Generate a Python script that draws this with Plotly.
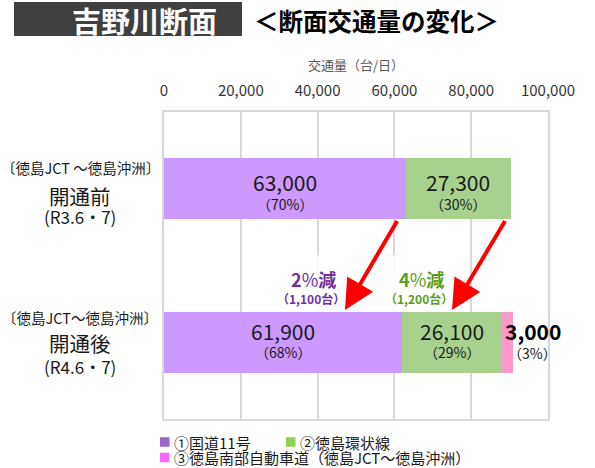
import plotly.graph_objects as go

# ---------------- data ----------------
categories = ["開通前", "開通後"]
route_labels = ["〔徳島JCT ～徳島沖洲〕", "〔徳島JCT～徳島沖洲〕"]
period_labels = ["(R3.6・7)", "(R4.6・7)"]
series_names = ["①国道11号", "②徳島環状線", "③徳島南部自動車道（徳島JCT～徳島沖洲）"]
route11 = [63000, 61900]
ring_road = [27300, 26100]
expressway = [0, 3000]
x_tick_values = [0, 20000, 40000, 60000, 80000, 100000]
axis_title = "交通量（台/日）"
title_left = "吉野川断面"
title_right = "＜断面交通量の変化＞"

# ---------------- style ----------------
FONT = "Noto Sans CJK JP"
BAR_COLORS = ["#cc99ff", "#a9d18e", "#ff99cc"]
LEGEND_COLORS = ["#9966cc", "#92d050", "#ff66ff"]
CHANGE_COLORS = ["#7030a0", "#5b9b22"]
GRID = "#d9d9d9"

W, H = 595, 468
L, R, T, B = 164, 47, 112, 49
PW, PH = W - L - R, H - T - B

# vertical pixel offsets of text lines per category row
VALUE_SHIFT = [7, 11]
PCT_SHIFT = [-15, -10]
LABEL_SHIFTS = [(21, -7, -28), (25, -1, -24)]


def px_x(p):
    return (p - L) / PW


def px_y(p):
    return (H - B - p) / PH


series = [route11, ring_road, expressway]
totals = [sum(s[i] for s in series) for i in range(len(categories))]

fig = go.Figure()
for name, vals, col in zip(series_names, series, BAR_COLORS):
    fig.add_trace(go.Bar(
        y=categories, x=vals, name=name, orientation="h",
        marker=dict(color=col, line=dict(width=0)),
        showlegend=False, hoverinfo="x+name",
    ))

ann = []
shapes = []


def text_ann(**kw):
    d = dict(showarrow=False, xanchor="center", yanchor="middle")
    d.update(kw)
    ann.append(d)


# in-bar value labels
for i, cat in enumerate(categories):
    start = 0
    for k, vals in enumerate(series):
        v = vals[i]
        if v <= 0:
            start += v
            continue
        pct = round(v / totals[i] * 100)
        if k < 2:
            text_ann(x=start + v / 2, y=cat, xref="x", yref="y", text=f"{v:,}",
                     yshift=VALUE_SHIFT[i],
                     font=dict(family=FONT, size=21, color="#1a1a1a"))
            text_ann(x=start + v / 2, y=cat, xref="x", yref="y", text=f"（{pct}%）",
                     yshift=PCT_SHIFT[i],
                     font=dict(family=FONT, size=14, color="#1a1a1a"))
        else:
            text_ann(x=start + v, y=cat, xref="x", yref="y", text=f"<b>{v:,}</b>",
                     yshift=11, xshift=20,
                     font=dict(family=FONT, size=21, color="#000000"))
            text_ann(x=start + v, y=cat, xref="x", yref="y", text=f"（{pct}%）",
                     yshift=-11, xshift=19,
                     font=dict(family=FONT, size=14, color="#1a1a1a"))
        start += v

# category labels (left)
for i, cat in enumerate(categories):
    s1, s2, s3 = LABEL_SHIFTS[i]
    text_ann(x=px_x(80), y=cat, xref="paper", yref="y", text=route_labels[i], yshift=s1,
             font=dict(family=FONT, size=14.5, color="#1a1a1a"))
    text_ann(x=px_x(80), y=cat, xref="paper", yref="y", text=cat, yshift=s2,
             font=dict(family=FONT, size=20.5, color="#1a1a1a"))
    text_ann(x=px_x(80), y=cat, xref="paper", yref="y", text=period_labels[i], yshift=s3,
             font=dict(family=FONT, size=17, color="#1a1a1a"))

# change labels with white boxes
CHANGE_X = [38930, 66930]
for k, vals in enumerate([route11, ring_road]):
    diff = vals[0] - vals[1]
    pct = round(diff / vals[0] * 100)
    shapes.append(dict(type="rect", xref="x", yref="y", xsizemode="pixel", ysizemode="pixel",
                       xanchor=CHANGE_X[k], yanchor=1, x0=-45.5, x1=45.5, y0=30, y1=87,
                       fillcolor="rgba(255,255,255,0.88)", line=dict(width=0), layer="between"))
    text_ann(x=CHANGE_X[k], y=categories[1], xref="x", yref="y",
             text=f"<b>{pct}</b>%<b>減</b>", yshift=63,
             font=dict(family=FONT, size=18, color=CHANGE_COLORS[k]))
    text_ann(x=CHANGE_X[k], y=categories[1], xref="x", yref="y",
             text=f"<b>（{diff:,}台）</b>", yshift=44, xshift=-2,
             font=dict(family=FONT, size=12, color=CHANGE_COLORS[k]))

# red arrows (tail on bar before, tip on bar after)
ARROWS = [(60940, 47140), (89060, 75000)]
for tail, tip in ARROWS:
    ann.append(dict(x=tip, y=0.79, xref="x", yref="y", ax=tail, ay=0.2,
                    axref="x", ayref="y", text="", showarrow=True,
                    arrowhead=2, arrowsize=1.5, arrowwidth=4, arrowcolor="#ff0000",
                    standoff=0, startstandoff=0))

# axis title
text_ann(x=0.5, y=px_y(65), xref="paper", yref="paper", text=axis_title,
         font=dict(family=FONT, size=13, color="#595959"))

# titles
shapes.append(dict(type="rect", xref="paper", yref="paper", x0=px_x(14), x1=px_x(242),
                   y0=px_y(36), y1=px_y(2), fillcolor="#404040", line=dict(width=0)))
text_ann(x=px_x(144), y=px_y(20), xref="paper", yref="paper",
         text=f"<b>{title_left}</b>", font=dict(family=FONT, size=29, color="#ffffff"))
text_ann(x=px_x(376), y=px_y(20), xref="paper", yref="paper",
         text=f"<b>{title_right}</b>", font=dict(family=FONT, size=24.5, color="#000000"))

# legend (manual)
LEG = [(160, 442), (286, 442), (160, 457.5)]
for (lx, ly), name, col in zip(LEG, series_names, LEGEND_COLORS):
    shapes.append(dict(type="rect", xref="paper", yref="paper",
                       x0=px_x(lx), x1=px_x(lx + 9.5), y0=px_y(ly + 4.75), y1=px_y(ly - 4.75),
                       fillcolor=col, line=dict(width=0)))
    text_ann(x=px_x(lx + 12), y=px_y(ly), xref="paper", yref="paper", text=name,
             xanchor="left", font=dict(family=FONT, size=15, color="#1a1a1a"))

fig.update_layout(
    width=W, height=H, margin=dict(l=L, r=R, t=T, b=B),
    barmode="stack", bargap=0.6,
    paper_bgcolor="white", plot_bgcolor="white",
    showlegend=False,
    annotations=ann, shapes=shapes,
    font=dict(family=FONT),
)
fig.update_xaxes(
    side="top", range=[0, 100000], tickvals=x_tick_values, tickformat=",",
    showgrid=True, gridcolor=GRID, gridwidth=2, zeroline=False,
    showline=True, linecolor=GRID, linewidth=2, mirror=True,
    ticks="", ticklabelstandoff=8,
    tickfont=dict(family=FONT, size=15, color="#333333"),
)
fig.update_yaxes(
    categoryorder="array", categoryarray=categories, range=[1.5, -0.5], autorange=False,
    showticklabels=False, showgrid=False, zeroline=False,
    showline=True, linecolor=GRID, linewidth=2, mirror=True, ticks="",
)

fig.write_html("out.html", config={"displayModeBar": False},
               post_script="document.body.style.margin='0px';")
